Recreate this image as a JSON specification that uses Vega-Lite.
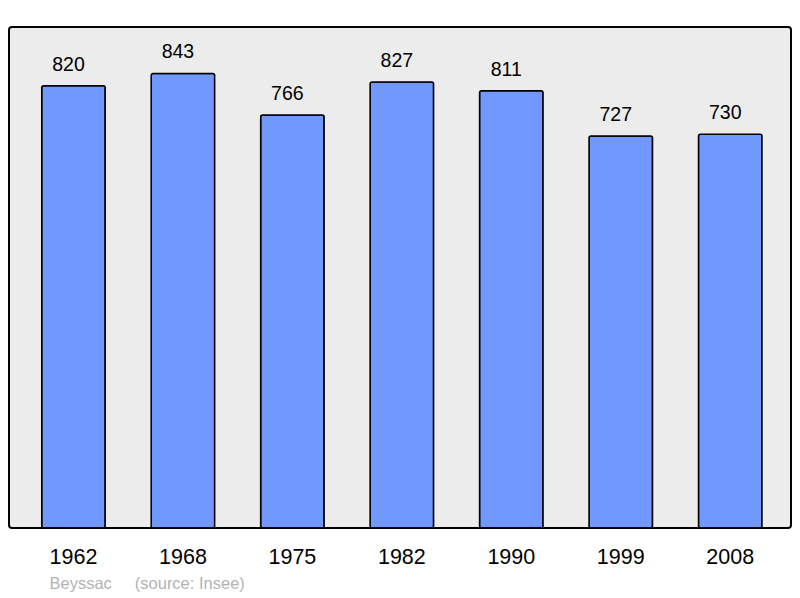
{
  "$schema": "https://vega.github.io/schema/vega-lite/v6.json",
  "width": 782,
  "height": 501,
  "autosize": {"type": "none"},
  "padding": {"left": 9, "top": 27, "right": 9, "bottom": 70},
  "background": "#ffffff",
  "config": {
    "font": "Liberation Sans",
    "view": {"fill": "#ececec", "stroke": "#000000", "strokeWidth": 2, "cornerRadius": 3}
  },
  "data": {
    "values": [
      {"year": "1962", "population": 820},
      {"year": "1968", "population": 843},
      {"year": "1975", "population": 766},
      {"year": "1982", "population": 827},
      {"year": "1990", "population": 811},
      {"year": "1999", "population": 727},
      {"year": "2008", "population": 730}
    ]
  },
  "encoding": {
    "x": {
      "field": "year",
      "type": "ordinal",
      "sort": null,
      "scale": {"paddingInner": 0.42, "paddingOuter": 0.282, "align": 0.53},
      "axis": {
        "title": "Beyssac\u00a0\u00a0\u00a0\u00a0\u00a0(source: Insee)",
        "titleFont": "Liberation Sans",
        "titleFontSize": 16.5,
        "titleFontWeight": "normal",
        "titleColor": "#b3b3b3",
        "titleAnchor": "start",
        "titleAlign": "left",
        "titleX": 40,
        "titlePadding": 8,
        "labelAngle": 0,
        "labelFont": "Liberation Sans",
        "labelFontSize": 21.5,
        "labelColor": "#000000",
        "labelPadding": 18,
        "domain": false,
        "ticks": false,
        "grid": false
      }
    },
    "y": {
      "field": "population",
      "type": "quantitative",
      "scale": {"domain": [0, 929], "nice": false, "zero": true},
      "axis": null
    }
  },
  "layer": [
    {
      "mark": {"type": "bar", "fill": "#7098ff", "stroke": "#000000", "strokeWidth": 1.5, "cornerRadius": 2}
    },
    {
      "mark": {"type": "text", "baseline": "alphabetic", "align": "center", "dx": -5, "dy": -15, "fontSize": 19.5, "font": "Liberation Sans", "color": "#000000"},
      "encoding": {"text": {"field": "population", "type": "quantitative"}}
    }
  ]
}
